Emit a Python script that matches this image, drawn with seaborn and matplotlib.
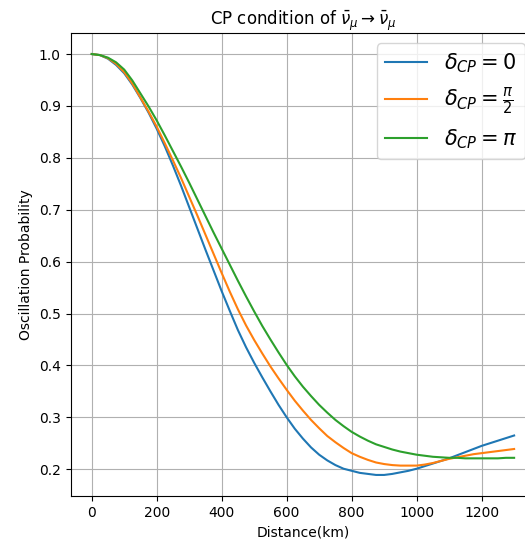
import matplotlib
matplotlib.use("Agg")
import matplotlib.pyplot as plt
import seaborn as sns
import pandas as pd

distance_km = [0, 25, 50, 75, 100, 125, 150, 175, 200, 225, 250, 275, 300, 325, 350,
               375, 400, 425, 450, 475, 500, 525, 550, 575, 600, 625, 650, 675, 700,
               725, 750, 775, 800, 825, 850, 875, 900, 925, 950, 975, 1000, 1025,
               1050, 1075, 1100, 1125, 1150, 1175, 1200, 1225, 1250, 1275, 1300]

prob_dcp_0 = [1.000, 0.998, 0.991, 0.979, 0.963, 0.941, 0.915, 0.887, 0.856, 0.822,
              0.785, 0.746, 0.705, 0.664, 0.623, 0.583, 0.543, 0.505, 0.468, 0.435,
              0.405, 0.377, 0.350, 0.324, 0.300, 0.278, 0.259, 0.242, 0.228, 0.217,
              0.208, 0.201, 0.197, 0.193, 0.191, 0.189, 0.189, 0.191, 0.194, 0.197,
              0.201, 0.206, 0.211, 0.216, 0.221, 0.227, 0.233, 0.239, 0.245, 0.250,
              0.255, 0.260, 0.265]

prob_dcp_pi2 = [1.000, 0.998, 0.992, 0.981, 0.965, 0.943, 0.916, 0.889, 0.860, 0.828,
                0.795, 0.761, 0.725, 0.689, 0.652, 0.615, 0.578, 0.542, 0.508, 0.477,
                0.449, 0.423, 0.398, 0.375, 0.353, 0.332, 0.313, 0.295, 0.279, 0.264,
                0.252, 0.241, 0.231, 0.224, 0.218, 0.213, 0.210, 0.208, 0.207, 0.207,
                0.207, 0.209, 0.212, 0.216, 0.220, 0.223, 0.226, 0.229, 0.231, 0.233,
                0.235, 0.237, 0.239]

prob_dcp_pi = [1.000, 0.998, 0.993, 0.984, 0.970, 0.949, 0.924, 0.899, 0.872, 0.843,
               0.813, 0.783, 0.752, 0.720, 0.688, 0.656, 0.625, 0.594, 0.563, 0.533,
               0.504, 0.476, 0.450, 0.425, 0.401, 0.379, 0.359, 0.341, 0.324, 0.309,
               0.295, 0.283, 0.272, 0.263, 0.255, 0.248, 0.243, 0.238, 0.234, 0.231,
               0.228, 0.226, 0.224, 0.223, 0.222, 0.222, 0.221, 0.221, 0.221, 0.221,
               0.221, 0.222, 0.222]

labels = [r'$\delta_{CP} = 0$', r'$\delta_{CP} = \frac{\pi}{2}$', r'$\delta_{CP} = \pi$']
series = [prob_dcp_0, prob_dcp_pi2, prob_dcp_pi]
colors = ['#1f77b4', '#ff7f0e', '#2ca02c']

fig = plt.figure(figsize=(5.25, 5.4), dpi=100)
ax = fig.add_axes([0.1345, 0.0815, 0.885, 0.8574])

for vals, lab, col in zip(series, labels, colors):
    df = pd.DataFrame({'Distance': distance_km, 'P': vals})
    sns.lineplot(data=df, x='Distance', y='P', ax=ax, label=lab, color=col, linewidth=1.5)

ax.set_title(r'CP condition of $\bar{\nu}_{\mu} \rightarrow \bar{\nu}_{\mu}$', fontsize=12)
ax.set_xlabel('Distance(km)')
ax.set_ylabel('Oscillation Probability')
ax.grid(True)
ax.set_xticks([0, 200, 400, 600, 800, 1000, 1200])
ax.set_yticks([0.2, 0.3, 0.4, 0.5, 0.6, 0.7, 0.8, 0.9, 1.0])
ax.legend(loc='upper right', fontsize=15)

fig.savefig('out.png', dpi=100)
